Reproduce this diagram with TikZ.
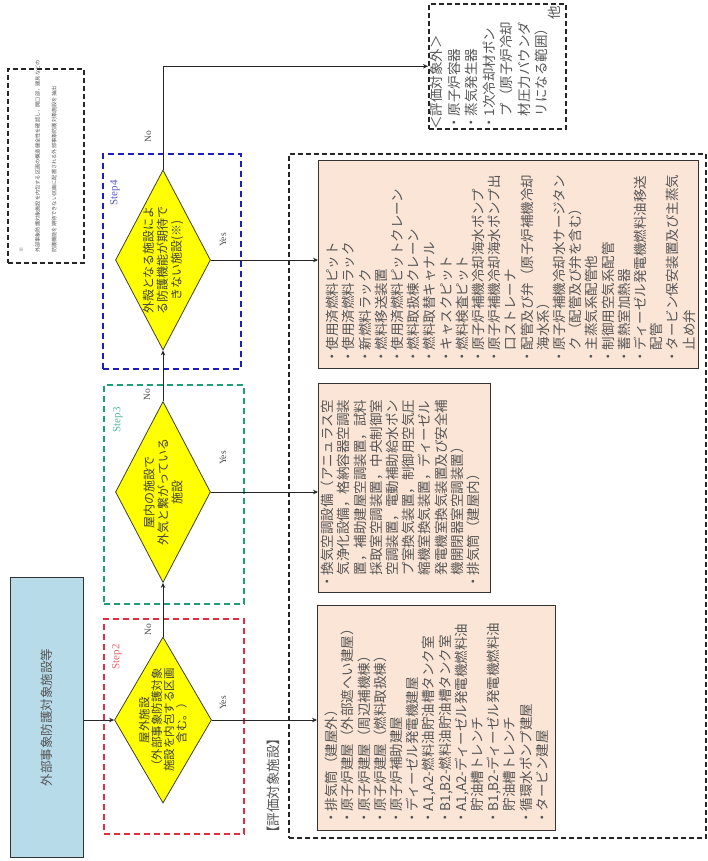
\documentclass[tikz,border=0pt]{standalone}
\usepackage{fontspec}
\setmainfont{Liberation Serif}
\newfontfamily\jp{Noto Sans CJK JP}
\usetikzlibrary{shapes.geometric,arrows.meta}
\definecolor{peach}{RGB}{251,229,214}
\definecolor{lblue}{RGB}{183,219,232}
\definecolor{ylw}{RGB}{255,255,0}
\definecolor{sred}{RGB}{225,45,60}
\definecolor{sgreen}{RGB}{30,160,115}
\definecolor{sblue}{RGB}{30,30,190}
\definecolor{txt}{RGB}{85,85,85}
\begin{document}
\begin{tikzpicture}[x=1pt,y=-1pt,
  resbox/.style={draw=black!80, line width=1.4pt, fill=peach, anchor=north west, inner sep=0pt},
  dbox/.style={draw=black!85, line width=1.6pt, dash pattern=on 5pt off 3pt, anchor=north west, inner sep=0pt},
  stepbox/.style={line width=1.6pt, dash pattern=on 6pt off 4pt, anchor=north west, inner sep=0pt},
  dia/.style={diamond, draw=black!70!olive, fill=ylw, line width=0.8pt, inner sep=0pt},
  jtext/.style={rotate=90, font=\jp\fontsize{13.5}{16.2}\selectfont, text=txt, align=left, inner sep=0pt},
  dtext/.style={rotate=90, font=\jp\fontsize{12}{14}\selectfont, text=black!75, align=center, inner sep=0pt},
  conn/.style={line width=0.9pt, draw=black!85, -{Stealth[length=5pt,width=4.5pt]}},
  lbl/.style={rotate=90, font=\fontsize{9.5}{10}\selectfont, text=black!70, inner sep=0pt},
  steplbl/.style={rotate=90, font=\fontsize{11}{12}\selectfont, inner sep=0pt}
]
\useasboundingbox (0,0) rectangle (708,861);

% frames
\node[dbox, minimum width=417pt, minimum height=684pt] (ev) at (288,153) {};
\node[rotate=90, anchor=west, font=\jp\fontsize{13.5}{16}\selectfont, text=txt, inner sep=0pt] (evl) at (273,840) {【評価対象施設】};
\node[dbox, minimum width=137pt, minimum height=125pt] (ex) at (428,3) {};
\node[dbox, minimum width=76pt, minimum height=194pt] (note) at (7,68) {};

% step frames
\node[stepbox, draw=sred, minimum width=140pt, minimum height=215pt] (s2) at (103,618) {};
\node[stepbox, draw=sgreen, minimum width=140pt, minimum height=219pt] (s3) at (103,384) {};
\node[stepbox, draw=sblue, minimum width=138pt, minimum height=215pt] (s4) at (102,153) {};
\node[steplbl, text=sred!75] (s2l) at (117,657) {Step2};
\node[steplbl, text=sgreen!75] (s3l) at (118,420) {Step3};
\node[steplbl, text=sblue!75] (s4l) at (115,193) {Step4};

% source
\node[draw=black!80, line width=1.3pt, fill=lblue, minimum width=73pt, minimum height=280pt, anchor=north west, inner sep=0pt] (src) at (10,577) {};
\node[rotate=90, font=\jp\fontsize{12.5}{14}\selectfont, text=txt, inner sep=0pt] (srct) at (src.center) {外部事象防護対象施設等};

% diamonds
\node[dia, minimum width=97pt, minimum height=166pt] (d2) at (163,720) {};
\node[dia, minimum width=95pt, minimum height=181pt] (d3) at (163,492) {};
\node[dia, minimum width=95pt, minimum height=180pt] (d4) at (163,260) {};
\node[dtext, font=\jp\fontsize{11.5}{12.4}\selectfont] (d2t) at (d2.center) {屋外施設\\（外部事象防護対象\\施設を内包する区画\\含む。）};
\node[dtext] (d3t) at (d3.center) {屋内の施設で\\外気と繋がっている\\施設};
\node[dtext] (d4t) at (d4.center) {外殻となる施設によ\\る防護機能が期待で\\きない施設(※)};

% result boxes
\node[resbox, minimum width=238pt, minimum height=225pt] (r2) at (317,605) {};
\node[resbox, minimum width=172pt, minimum height=209pt] (r3) at (318,383) {};
\node[resbox, minimum width=380pt, minimum height=208pt] (r4) at (318,160) {};

\node[jtext, anchor=north west] (r2t) at (325,825) {・排気筒（建屋外）\\・原子炉建屋（外部遮へい建屋）\\・原子炉建屋（周辺補機棟）\\・原子炉建屋（燃料取扱棟）\\・原子炉補助建屋\\・ディーゼル発電機建屋\\・A1,A2-燃料油貯油槽タンク室\\・B1,B2-燃料油貯油槽タンク室\\・A1,A2-ディーゼル発電機燃料油\\\hspace*{1em}貯油槽トレンチ\\・B1,B2-ディーゼル発電機燃料油\\\hspace*{1em}貯油槽トレンチ\\・循環水ポンプ建屋\\・タービン建屋};

\node[jtext, anchor=north west] (r3t) at (321,589) {・換気空調設備（アニュラス空\\\hspace*{1em}気浄化設備，格納容器空調装\\\hspace*{1em}置，補助建屋空調装置，試料\\\hspace*{1em}採取室空調装置，中央制御室\\\hspace*{1em}空調装置，電動補助給水ポン\\\hspace*{1em}プ室換気装置，制御用空気圧\\\hspace*{1em}縮機室換気装置，ディーゼル\\\hspace*{1em}発電機室換気装置及び安全補\\\hspace*{1em}機開閉器室空調装置）\\・排気筒（建屋内）};

\node[jtext, anchor=north west] (r4t) at (326,364) {・使用済燃料ピット\\・使用済燃料ラック\\・新燃料ラック\\・燃料移送装置\\・使用済燃料ピットクレーン\\・燃料取扱棟クレーン\\・燃料取替キャナル\\・キャスクピット\\・燃料検査ピット\\・原子炉補機冷却海水ポンプ\\・原子炉補機冷却海水ポンプ出\\\hspace*{1em}口ストレーナ\\・配管及び弁（原子炉補機冷却\\\hspace*{1em}海水系）\\・原子炉補機冷却水サージタン\\\hspace*{1em}ク（配管及び弁を含む）\\・主蒸気系配管他\\・制御用空気系配管\\・蓄熱室加熱器\\・ディーゼル発電機燃料油移送\\\hspace*{1em}配管\\・タービン保安装置及び主蒸気\\\hspace*{1em}止め弁};

% excluded
\node[jtext, font=\jp\fontsize{13.5}{17.5}\selectfont, anchor=north west] (ext) at (430,130) {＜評価対象外＞\\・原子炉容器\\・蒸気発生器\\・1次冷却材ポン\\\hspace*{1em}プ（原子炉冷却\\\hspace*{1em}材圧力バウンダ\\\hspace*{1em}リになる範囲）};
\node[rotate=90, font=\jp\fontsize{13.5}{16}\selectfont, text=txt, inner sep=0pt] (oth) at (554,13) {他};

% note
\node[jtext, font=\jp\fontsize{5.2}{16.5}\selectfont, anchor=north west] (nt) at (19,253) {※\\外部事象防護対象施設を内包する区画の構造健全性を確認し，開口部，建具などの\\防護機能を期待できない区画に配置される外部事象防護対象施設を抽出};

% connectors
\draw[conn] (d2.west -| src.east) -- (d2.west);
\draw[conn] (d2.north) -- (d3.south);
\draw[conn] (d3.north) -- (d4.south);
\draw[conn] (d4.north) |- (ex.west);
\draw[conn] (d2.east) -- (d2.east -| r2.west);
\draw[conn] (d3.east) -- (d3.east -| r3.west);
\draw[conn] (d4.east) -- (d4.east -| r4.west);

% yes/no labels
\node[lbl] (n2) at (148,630) {No};
\node[lbl] (n3) at (147,395) {No};
\node[lbl] (n4) at (148,137) {No};
\node[lbl] (y2) at (223,703) {Yes};
\node[lbl] (y3) at (223,458) {Yes};
\node[lbl] (y4) at (223,240) {Yes};
\end{tikzpicture}
\end{document}
